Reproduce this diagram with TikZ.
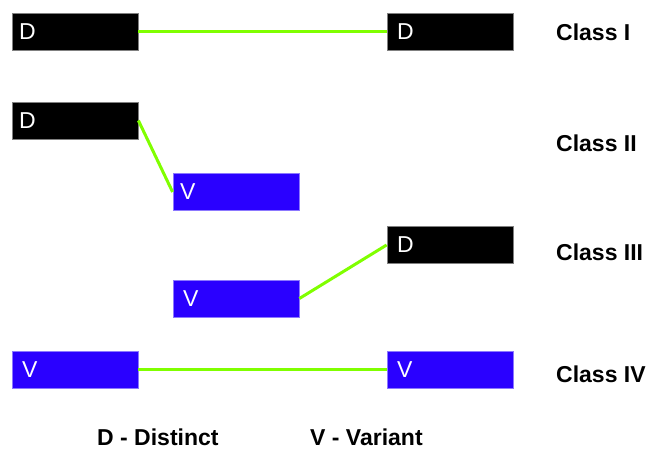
\documentclass[tikz,border=0pt]{standalone}
\usepackage{fontspec}
\setmainfont{Liberation Sans}
\usepackage{xcolor}
\usepackage{tikz}
\usetikzlibrary{positioning}
\definecolor{vblue}{RGB}{42,0,255}
\definecolor{vedge}{RGB}{140,120,255}
\definecolor{lgreen}{RGB}{128,255,0}

\begin{document}
\begin{tikzpicture}[x=1pt, y=-1pt,
    box/.style={minimum width=126pt, minimum height=37pt, text width=106pt, inner xsep=10pt,
                align=left, text=white, font=\fontsize{23}{23}\selectfont, line width=0.8pt},
    near/.style={text width=112pt, inner xsep=7pt},
    dbox/.style={box, draw=gray, fill=black},
    vbox/.style={box, draw=vedge, fill=vblue},
    link/.style={lgreen, line width=3pt},
    cls/.style={anchor=west, inner sep=0pt, font=\fontsize{23}{23}\selectfont\bfseries}]
    \useasboundingbox (0,0) rectangle (650,449);

    \node[dbox, near] (d1a) at (75,31.5) {D};
    \node[dbox] (d1b) at (450,31.5) {D};
    \node[dbox, near] (d2) at (75,120.5) {D};
    \node[vbox, near] (v2) at (236,192) {V};
    \node[dbox] (d3) at (450,245) {D};
    \node[vbox] (v3) at (236,298.5) {V};
    \node[vbox] (v4a) at (75,369.5) {V};
    \node[vbox] (v4b) at (450,369.5) {V};

    \node[cls] (c1) at (556,32) {Class I};
    \node[cls] (c2) at (556,143) {Class II};
    \node[cls] (c3) at (556,252) {Class III};
    \node[cls] (c4) at (556,374) {Class IV};

    \node[cls] (kd) at (97,437) {D - Distinct};
    \node[cls] (kv) at (310,437) {V - Variant};

    \draw[link] (d1a.east) -- (d1b.west);
    \draw[link] (d2.east) -- (v2.west);
    \draw[link] (v3.east) -- (d3.west);
    \draw[link] (v4a.east) -- (v4b.west);
\end{tikzpicture}
\end{document}
